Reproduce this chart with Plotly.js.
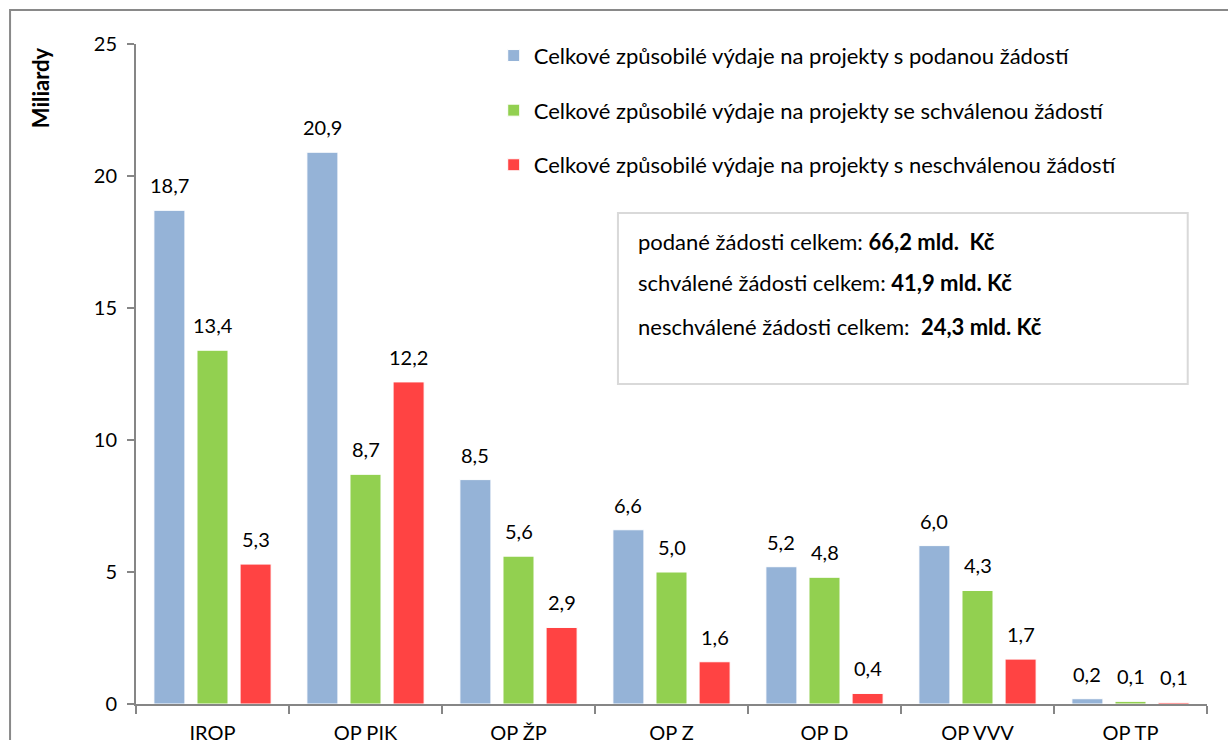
<!DOCTYPE html>
<html>
<head>
<meta charset="utf-8">
<script src="https://cdn.plot.ly/plotly-3.0.1.min.js"></script>
<style>
  html, body { margin: 0; padding: 0; background: #ffffff; }
  #chart { width: 1228px; height: 740px; }
</style>
</head>
<body>
<div id="chart"></div>
<script>
const categories = ["IROP", "OP PIK", "OP ŽP", "OP Z", "OP D", "OP VVV", "OP TP"];
const podane = [18.7, 20.9, 8.5, 6.6, 5.2, 6.0, 0.2];
const schvalene = [13.4, 8.7, 5.6, 5.0, 4.8, 4.3, 0.1];
const neschvalene = [5.3, 12.2, 2.9, 1.6, 0.4, 1.7, 0.06];
const seriesNames = [
  "Celkové způsobilé výdaje na projekty s podanou žádostí",
  "Celkové způsobilé výdaje na projekty se schválenou žádostí",
  "Celkové způsobilé výdaje na projekty s neschválenou žádostí"
];
const yTicks = [0, 5, 10, 15, 20, 25];
const summaryLines = [
  "podané žádosti celkem: <b>66,2 mld.  Kč</b>",
  "schválené žádosti celkem: <b>41,9 mld. Kč</b>",
  "neschválené žádosti celkem:  <b>24,3 mld. Kč</b>"
];
const colors = ["#95b3d7", "#92d050", "#ff4343"];
const FONT = "Lato, 'Open Sans', sans-serif";

const W = 1228, H = 740;
const M = { l: 136, r: 21, t: 44, b: 36 };
const BARGAP = 0.155, BARGROUPGAP = 0.28;

const seriesValues = [podane, schvalene, neschvalene];
const traces = seriesValues.map((vals, i) => ({
  type: "bar",
  name: seriesNames[i],
  legendgroup: "g" + i,
  x: categories,
  y: vals,
  marker: { color: colors[i], line: { color: "#ffffff", width: 1 } },
  hoverinfo: "x+y"
}));

// value labels above bars (offset within group derived from layout gaps)
const plotW = W - M.l - M.r;
const slot = plotW / categories.length * (1 - BARGAP) / seriesValues.length;
const fmt = v => v.toFixed(1).replace(".", ",");
const annotations = [];
seriesValues.forEach((vals, i) => {
  vals.forEach((v, j) => {
    annotations.push({
      xref: "x", yref: "y",
      x: categories[j], y: v,
      xshift: (i - (seriesValues.length - 1) / 2) * slot,
      yshift: 11,
      xanchor: "center", yanchor: "bottom",
      text: fmt(v), showarrow: false,
      font: { family: FONT, size: 20, color: "#000000" }
    });
  });
});

const annY = [0.7015, 0.638, 0.5727];
summaryLines.forEach((t, i) => annotations.push({
  xref: "paper", yref: "paper",
  x: 0.467, y: annY[i],
  xanchor: "left", yanchor: "middle",
  text: t, showarrow: false,
  font: { family: FONT, size: 22, color: "#000000" }
}));
annotations.push({
  xref: "paper", yref: "paper",
  x: -0.0896, y: 0.933,
  xanchor: "center", yanchor: "middle",
  text: "<b>Miliardy</b>", textangle: -90, showarrow: false,
  font: { family: FONT, size: 22, color: "#000000" }
});

const layout = {
  width: W, height: H,
  margin: M,
  paper_bgcolor: "#ffffff", plot_bgcolor: "#ffffff",
  separators: ",.",
  font: { family: FONT, size: 20, color: "#000000" },
  barmode: "group",
  bargap: BARGAP,
  bargroupgap: BARGROUPGAP,
  showlegend: true,
  legend: {
    x: 0.334, y: 1.014, xanchor: "left", yanchor: "top",
    font: { family: FONT, size: 22, color: "#000000" },
    tracegroupgap: 23,
    bgcolor: "rgba(0,0,0,0)"
  },
  xaxis: {
    type: "category",
    showline: true, linecolor: "#868686", linewidth: 2,
    ticks: "outside", tickson: "boundaries", ticklen: 8, tickcolor: "#868686", tickwidth: 2,
    ticklabelstandoff: 10,
    showgrid: false, zeroline: false,
    tickfont: { family: FONT, size: 20, color: "#000000" }
  },
  yaxis: {
    range: [0, 25],
    tickvals: yTicks,
    ticktext: yTicks.map(String),
    showline: true, linecolor: "#868686", linewidth: 2,
    ticks: "outside", ticklen: 7, tickcolor: "#868686", tickwidth: 2,
    ticklabelstandoff: 6,
    showgrid: false, zeroline: false,
    tickfont: { family: FONT, size: 20, color: "#000000" }
  },
  annotations: annotations,
  shapes: [
    {
      type: "rect", xref: "paper", yref: "paper",
      x0: 0.450, x1: 0.982, y0: 0.485, y1: 0.744,
      line: { color: "#d9d9d9", width: 2 }, fillcolor: "rgba(255,255,255,0)"
    },
    {
      type: "path", xref: "paper", yref: "paper",
      path: "M -0.1176,-0.2 L -0.1176,1.0515 L 1.2,1.0515",
      line: { color: "#898989", width: 2 }
    }
  ]
};

Plotly.newPlot("chart", traces, layout, { displayModeBar: false, staticPlot: true });
</script>
</body>
</html>
